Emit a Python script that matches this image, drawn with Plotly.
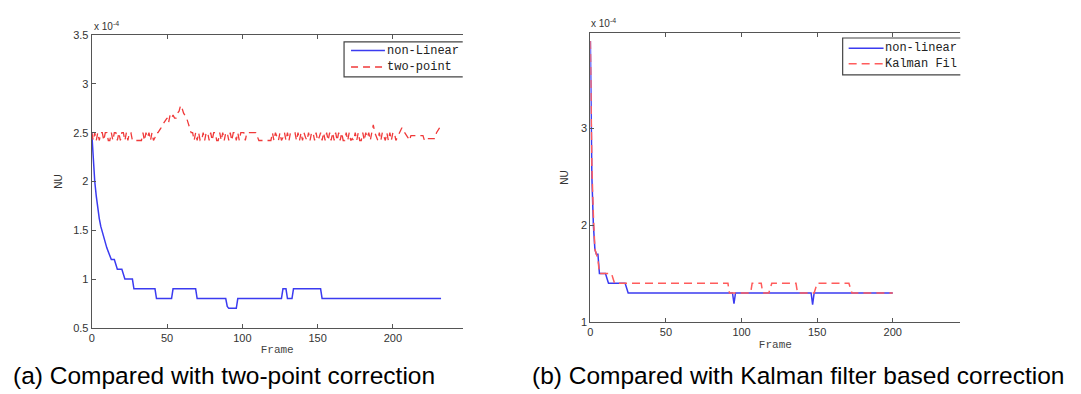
import plotly.graph_objects as go

W, H = 1081, 394

# ---------------- (a) data ----------------
nl_a_frames = [0, 1, 2, 3, 4, 5, 6, 7, 8, 9, 10, 11, 12, 13, 15, 16, 17, 20, 21, 22, 27,
               28, 42, 43, 53, 54, 69, 70, 89, 90, 91, 96, 97, 126, 127, 129, 130, 133,
               134, 152, 153, 232]
nl_a_values = [2.5, 2.2, 2.0, 1.85, 1.72, 1.62, 1.54, 1.48, 1.42, 1.37, 1.32, 1.28, 1.24,
               1.2, 1.2, 1.15, 1.1, 1.1, 1.05, 1.0, 1.0,
               0.9, 0.9, 0.8, 0.8, 0.9, 0.9, 0.8, 0.8, 0.72, 0.7, 0.7, 0.8, 0.8, 0.9, 0.9,
               0.8, 0.8, 0.9, 0.9, 0.8, 0.8]

tp_values = [
    # 0-26
    2.5, 2.42, 2.5, 2.42, 2.5, 2.42, 2.5, 2.5, 2.42, 2.5, 2.5, 2.42, 2.42, 2.5, 2.42, 2.5,
    2.5, 2.42, 2.5, 2.42, 2.5, 2.5, 2.42, 2.5, 2.42, 2.5, 2.5,
    # 27-33
    2.42, 2.42, 2.42, 2.42, 2.42, 2.42, 2.42,
    # 34-41
    2.5, 2.42, 2.5, 2.45, 2.5, 2.42, 2.5, 2.42,
    # 42-68
    2.45, 2.5, 2.5, 2.52, 2.55, 2.58, 2.6, 2.62, 2.65, 2.6, 2.68, 2.65, 2.68, 2.65, 2.65,
    2.7, 2.72, 2.78, 2.75, 2.7, 2.68, 2.65, 2.6, 2.55, 2.5, 2.5, 2.42,
    # 69-100
    2.5, 2.42, 2.5, 2.42, 2.42, 2.5, 2.42, 2.5, 2.5, 2.42, 2.5, 2.42, 2.5, 2.5, 2.42, 2.42,
    2.5, 2.42, 2.5, 2.42, 2.5, 2.5, 2.42, 2.5, 2.42, 2.5, 2.5, 2.42, 2.5, 2.42, 2.5, 2.5,
    # 101-110
    2.5, 2.42, 2.5, 2.5, 2.5, 2.5, 2.5, 2.5, 2.5, 2.46,
    # 111-119
    2.42, 2.42, 2.42, 2.42, 2.42, 2.42, 2.42, 2.42, 2.42,
    # 120-160
    2.5, 2.42, 2.5, 2.45, 2.42, 2.5, 2.42, 2.45, 2.5, 2.42, 2.5, 2.42, 2.5, 2.5, 2.5, 2.5,
    2.42, 2.5, 2.42, 2.5, 2.42, 2.5, 2.45, 2.42, 2.5, 2.42, 2.5, 2.5, 2.42, 2.5, 2.42, 2.45,
    2.5, 2.42, 2.5, 2.42, 2.5, 2.42, 2.5, 2.42, 2.5,
    # 161-187
    2.42, 2.5, 2.42, 2.5, 2.42, 2.5, 2.42, 2.42, 2.5, 2.42, 2.5, 2.42, 2.44, 2.42, 2.5, 2.42,
    2.5, 2.42, 2.42, 2.5, 2.42, 2.5, 2.45, 2.5, 2.42, 2.5, 2.58,
    # 188-203
    2.5, 2.45, 2.42, 2.5, 2.42, 2.5, 2.45, 2.42, 2.5, 2.42, 2.5, 2.42, 2.5, 2.5, 2.42, 2.45,
    # 204-211
    2.48, 2.52, 2.55, 2.52, 2.5, 2.48, 2.45, 2.42,
    # 212-220
    2.47, 2.47, 2.47, 2.47, 2.47, 2.47, 2.47, 2.47, 2.47,
    # 221-228
    2.42, 2.44, 2.44, 2.44, 2.44, 2.44, 2.44, 2.44,
    # 229-232
    2.5, 2.52, 2.55, 2.58,
]
tp_frames = list(range(len(tp_values)))

# ---------------- (b) data ----------------
nl_b_frames = [0, 1, 2, 3, 4, 5, 6, 10, 11, 12, 23, 25, 94, 95, 96, 146, 147, 148, 200]
nl_b_values = [3.9, 2.5, 2.0, 1.75, 1.7, 1.7, 1.5, 1.5, 1.45, 1.4, 1.4, 1.3, 1.3, 1.19, 1.3,
               1.3, 1.18, 1.3, 1.3]

kf_frames = [0, 1, 2, 3, 4, 5, 6, 14, 15, 16, 91, 92, 106, 107, 113, 114, 118, 120, 136,
             137, 148, 150, 171, 173, 200]
kf_values = [3.9, 2.6, 2.1, 1.75, 1.7, 1.65, 1.5, 1.5, 1.45, 1.4, 1.4, 1.3, 1.3, 1.4, 1.4,
             1.3, 1.3, 1.4, 1.4, 1.3, 1.3, 1.4, 1.4, 1.3, 1.3]

names_a = ["non-Linear", "two-point"]
names_b = ["non-linear", "Kalman Fil"]
captions = ["(a) Compared with two-point correction",
            "(b) Compared with Kalman filter based correction"]
x_ticks = [0, 50, 100, 150, 200]
y_ticks_a = [0.5, 1, 1.5, 2, 2.5, 3, 3.5]
y_ticks_b = [1, 2, 3]

BLUE = "#3b3bf0"
RED_A = "#f03a3a"
RED_B = "#ff5c5c"
AX = "#555555"
SANS = "Liberation Sans, Arial, sans-serif"
MONO = "Liberation Mono, Courier New, monospace"
DASH_A = "7px,5px"
DASH_B = "8px,5px"

fig = go.Figure()
fig.add_trace(go.Scatter(x=nl_a_frames, y=nl_a_values, mode="lines", name=names_a[0],
                         line=dict(color=BLUE, width=1.5), xaxis="x", yaxis="y"))
fig.add_trace(go.Scatter(x=tp_frames, y=tp_values, mode="lines", name=names_a[1],
                         line=dict(color=RED_A, width=1.3, dash=DASH_A), xaxis="x",
                         yaxis="y"))
fig.add_trace(go.Scatter(x=nl_b_frames, y=nl_b_values, mode="lines", name=names_b[0],
                         line=dict(color=BLUE, width=1.5), xaxis="x2", yaxis="y2"))
fig.add_trace(go.Scatter(x=kf_frames, y=kf_values, mode="lines", name=names_b[1],
                         line=dict(color=RED_B, width=1.5, dash=DASH_B), xaxis="x2",
                         yaxis="y2"))


def px_x(p):
    return p / W


def px_y(p):
    return 1 - p / H


common_x = dict(showgrid=False, zeroline=False, showline=True, linecolor=AX, linewidth=1.2,
                mirror="ticks", ticks="inside", ticklen=4, tickcolor=AX,
                tickvals=x_ticks, tickfont=dict(family=SANS, size=11, color="#333"),
                title=dict(text="Frame", font=dict(family=MONO, size=11, color="#444"),
                           standoff=2))
common_y = dict(showgrid=False, zeroline=False, showline=True, linecolor=AX, linewidth=1.2,
                mirror=False, ticks="inside", ticklen=4, tickcolor=AX,
                tickfont=dict(family=SANS, size=11, color="#333"))

fig.update_layout(
    width=W, height=H, margin=dict(l=0, r=0, t=0, b=0),
    paper_bgcolor="white", plot_bgcolor="white", showlegend=False,
    xaxis=dict(common_x, domain=[px_x(89), px_x(461)], range=[0, 246.4], anchor="y"),
    yaxis=dict(common_y, domain=[px_y(332), px_y(30)], range=[0.5, 3.5], anchor="x",
               tickvals=y_ticks_a, ticktext=["0.5", "1", "1.5", "2", "2.5", "3", "3.5"],
               title=dict(text="NU", font=dict(family=SANS, size=10, color="#333"),
                          standoff=8)),
    xaxis2=dict(common_x, domain=[px_x(589), px_x(960)], range=[0, 244.7], anchor="y2"),
    yaxis2=dict(common_y, domain=[px_y(326), px_y(28)], range=[1, 3.98], anchor="x2",
                tickvals=y_ticks_b,
                title=dict(text="NU", font=dict(family=SANS, size=10, color="#333"),
                           standoff=10)),
)

# legends (the right edge of each legend box is cut off in the reference)
shapes = []
annotations = []


def legend_box(x0, x1, y0, y1, entries):
    shapes.append(dict(type="path", xref="paper", yref="paper",
                       path=f"M {px_x(x1)},{px_y(y0)} L {px_x(x0)},{px_y(y0)} "
                            f"L {px_x(x0)},{px_y(y1)} L {px_x(x1)},{px_y(y1)}",
                       line=dict(color="#444", width=1.2), fillcolor="rgba(0,0,0,0)"))
    for (lx0, lx1, ly, color, dash, text, tx) in entries:
        shapes.append(dict(type="line", xref="paper", yref="paper",
                           x0=px_x(lx0), x1=px_x(lx1), y0=px_y(ly), y1=px_y(ly),
                           line=dict(color=color, width=1.5, dash=dash)))
        annotations.append(dict(text=text, x=px_x(tx), y=px_y(ly), xref="paper",
                                yref="paper", xanchor="left", yanchor="middle",
                                showarrow=False,
                                font=dict(family=MONO, size=12, color="#222")))


legend_box(342, 461, 37, 73, [
    (349, 383, 46, BLUE, "solid", names_a[0], 383),
    (349, 383, 63, RED_A, DASH_A, names_a[1], 383),
])
legend_box(842, 960, 33, 71, [
    (848, 883, 43.5, BLUE, "solid", names_b[0], 882),
    (848, 883, 59.5, RED_B, DASH_B, names_b[1], 882),
])

annotations += [
    dict(text="x 10<sup>-4</sup>", x=px_x(89), y=px_y(21), xref="paper", yref="paper",
         xanchor="left", yanchor="middle", showarrow=False,
         font=dict(family=SANS, size=10, color="#333")),
    dict(text="x 10<sup>-4</sup>", x=px_x(588), y=px_y(18), xref="paper", yref="paper",
         xanchor="left", yanchor="middle", showarrow=False,
         font=dict(family=SANS, size=10, color="#333")),
    dict(text=captions[0], x=px_x(8), y=px_y(381), xref="paper", yref="paper",
         xanchor="left", yanchor="middle", showarrow=False,
         font=dict(family=SANS, size=24.5, color="#000")),
    dict(text=captions[1], x=px_x(528), y=px_y(381), xref="paper", yref="paper",
         xanchor="left", yanchor="middle", showarrow=False,
         font=dict(family=SANS, size=24.5, color="#000")),
]
fig.update_layout(shapes=shapes, annotations=annotations)

# drop the browser's default body margin so the figure fills the window exactly
fig.write_html("out.html", config={"displayModeBar": False},
               post_script="document.body.style.margin='0px';")
